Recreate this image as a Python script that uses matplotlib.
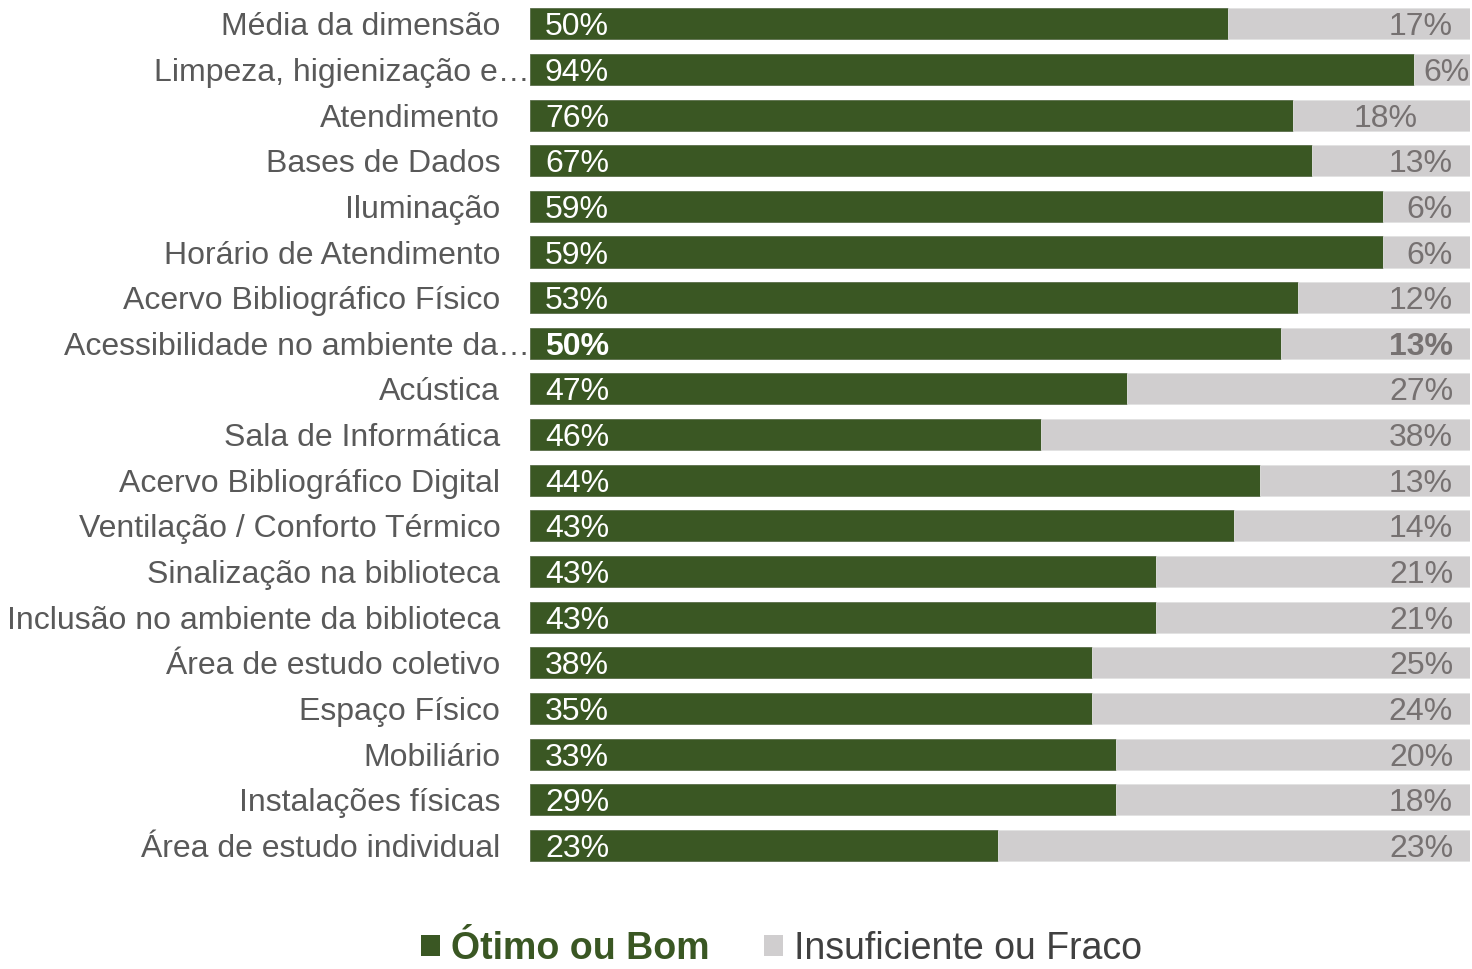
import matplotlib
matplotlib.use("Agg")
import matplotlib.pyplot as plt
from matplotlib.patches import Patch
from matplotlib.transforms import blended_transform_factory

plt.rcParams['font.family'] = ['Liberation Sans', 'DejaVu Sans']

# categories, top to bottom
categories = [
    "Média da dimensão",
    "Limpeza, higienização e…",
    "Atendimento",
    "Bases de Dados",
    "Iluminação",
    "Horário de Atendimento",
    "Acervo Bibliográfico Físico",
    "Acessibilidade no ambiente da…",
    "Acústica",
    "Sala de Informática",
    "Acervo Bibliográfico Digital",
    "Ventilação / Conforto Térmico",
    "Sinalização na biblioteca",
    "Inclusão no ambiente da biblioteca",
    "Área de estudo coletivo",
    "Espaço Físico",
    "Mobiliário",
    "Instalações físicas",
    "Área de estudo individual",
]

# printed labels
otimo_pct = [50, 94, 76, 67, 59, 59, 53, 50, 47, 46, 44, 43, 43, 43, 38, 35, 33, 29, 23]
insuf_pct = [17, 6, 18, 13, 6, 6, 12, 13, 27, 38, 13, 14, 21, 21, 25, 24, 20, 18, 23]

# bar lengths as drawn in the chart (share of the full bar)
otimo_bar = [74.3, 94.0, 81.2, 83.2, 90.7, 90.7, 81.7, 79.9, 63.5, 54.4,
             77.7, 74.9, 66.6, 66.6, 59.8, 59.8, 62.3, 62.3, 49.8]
insuf_bar = [25.7, 6.0, 18.8, 16.8, 9.3, 9.3, 18.3, 20.1, 36.5, 45.6,
             22.3, 25.1, 33.4, 33.4, 40.2, 40.2, 37.7, 37.7, 50.2]

series_names = ["Ótimo ou Bom", "Insuficiente ou Fraco"]

green = "#3A5723"
grey = "#D0CECF"
label_grey = "#767171"
text_grey = "#595959"

# right edge of the grey labels (default 98.2)
label_right = {1: 100.0, 2: 94.4}
bold_rows = {7}

fig = plt.figure(figsize=(14.72, 9.69), dpi=100)
ax = fig.add_axes([0.360, 0.104, 0.6386, 0.895])

y = list(range(len(categories)))
ax.barh(y, otimo_bar, height=0.68, color=green, edgecolor="#5a6e4a", linewidth=0.6)
ax.barh(y, insuf_bar, left=otimo_bar, height=0.68, color=grey, edgecolor="#e2e2e2", linewidth=0.6)

for i in y:
    w = "bold" if i in bold_rows else "normal"
    ax.text(1.6, i, f"{otimo_pct[i]}%", color="white", fontsize=23, va="center_baseline",
            ha="left", fontweight=w)
    ax.text(label_right.get(i, 98.2), i, f"{insuf_pct[i]}%", color=label_grey,
            fontsize=23, va="center_baseline", ha="right", fontweight=w)

# category labels (truncated ones run up to the bar)
trans = blended_transform_factory(ax.transAxes, ax.transData)
for i, name in enumerate(categories):
    xr = 0.0 if name.endswith("…") else -0.0315
    ax.text(xr, i, name, transform=trans, ha="right", va="center_baseline",
            fontsize=23, color=text_grey)

ax.set_xlim(0, 100)
ax.set_ylim(len(categories) - 0.5, -0.5)
ax.set_yticks([])
ax.set_xticks([])
for s in ax.spines.values():
    s.set_visible(False)

handles = [Patch(facecolor=green), Patch(facecolor=grey)]
leg = fig.legend(handles, series_names, loc="center", bbox_to_anchor=(0.531, 0.021),
                 ncol=2, frameon=False, fontsize=27, handlelength=0.5, handleheight=0.5,
                 handletextpad=0.3, columnspacing=1.45, borderpad=0.1)
texts = leg.get_texts()
texts[0].set_color(green)
texts[0].set_fontweight("bold")
texts[1].set_color("#404040")

fig.savefig("out.png", dpi=100)
